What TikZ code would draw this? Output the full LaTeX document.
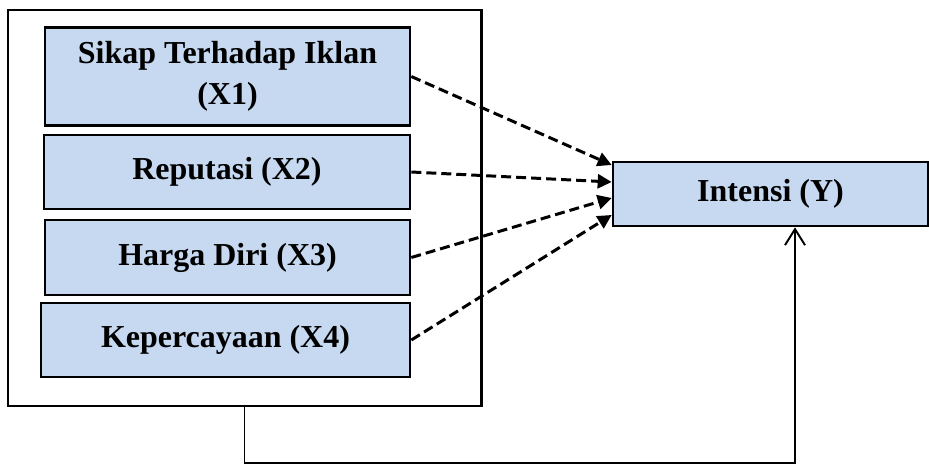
\documentclass[tikz,border=0pt]{standalone}
\usepackage{fontspec}
\setmainfont{Liberation Serif}
\usetikzlibrary{arrows.meta,calc}

\definecolor{kotak}{RGB}{198,217,240}

\tikzset{
    var/.style={draw=black, line width=1.5pt, fill=kotak, align=center,
        font=\fontsize{18.2}{23}\selectfont\bfseries, inner sep=0pt},
    panah/.style={line width=1.7pt, dash pattern=on 0.2cm off 0.1cm,
        -{Triangle[length=0.28cm,width=0.28cm]}},
}

\begin{document}
\begin{tikzpicture}[x=0.02cm, y=-0.02cm]
    \useasboundingbox (0,0) rectangle (929,466);

    % -------------------------------
    % kotak luar
    % -------------------------------
    \node[draw=black, line width=1.7pt, minimum width=473*0.02cm,
        minimum height=396*0.02cm, inner sep=0pt] (luar) at (244.5,208) {};

    % -------------------------------
    % variabel X
    % -------------------------------
    \node[var, minimum width=365*0.02cm, minimum height=98*0.02cm] (x1)
        at (227.5,76.5) {Sikap Terhadap Iklan\\(X1)};
    \node[var, minimum width=366*0.02cm, minimum height=74*0.02cm] (x2)
        at (227,172) {Reputasi (X2)};
    \node[var, minimum width=365*0.02cm, minimum height=75*0.02cm] (x3)
        at (227.5,257.5) {Harga Diri (X3)};
    \node[var, minimum width=369*0.02cm, minimum height=74*0.02cm] (x4)
        at (225.5,340) {Kepercayaan (X4)};

    % -------------------------------
    % variabel Y
    % -------------------------------
    \node[var, minimum width=315*0.02cm, minimum height=64*0.02cm] (y)
        at (770.5,194) {Intensi (Y)};

    % panah putus-putus
    \draw[panah] (x1.east) -- ($(y.west)+(0,-29)$);
    \draw[panah] (x2.east) -- ($(y.west)+(0,-12)$);
    \draw[panah] (x3.east) -- ($(y.west)+(0,4)$);
    \draw[panah] (x4.east) -- ($(y.west)+(0,21)$);

    % garis bawah
    \coordinate (bawah) at (795,463);
    \draw[line width=1.1pt, -{Straight Barb[length=0.32cm,width=0.4cm]}]
        (luar.south) |- (bawah) -- (bawah |- y.south);

\end{tikzpicture}
\end{document}
